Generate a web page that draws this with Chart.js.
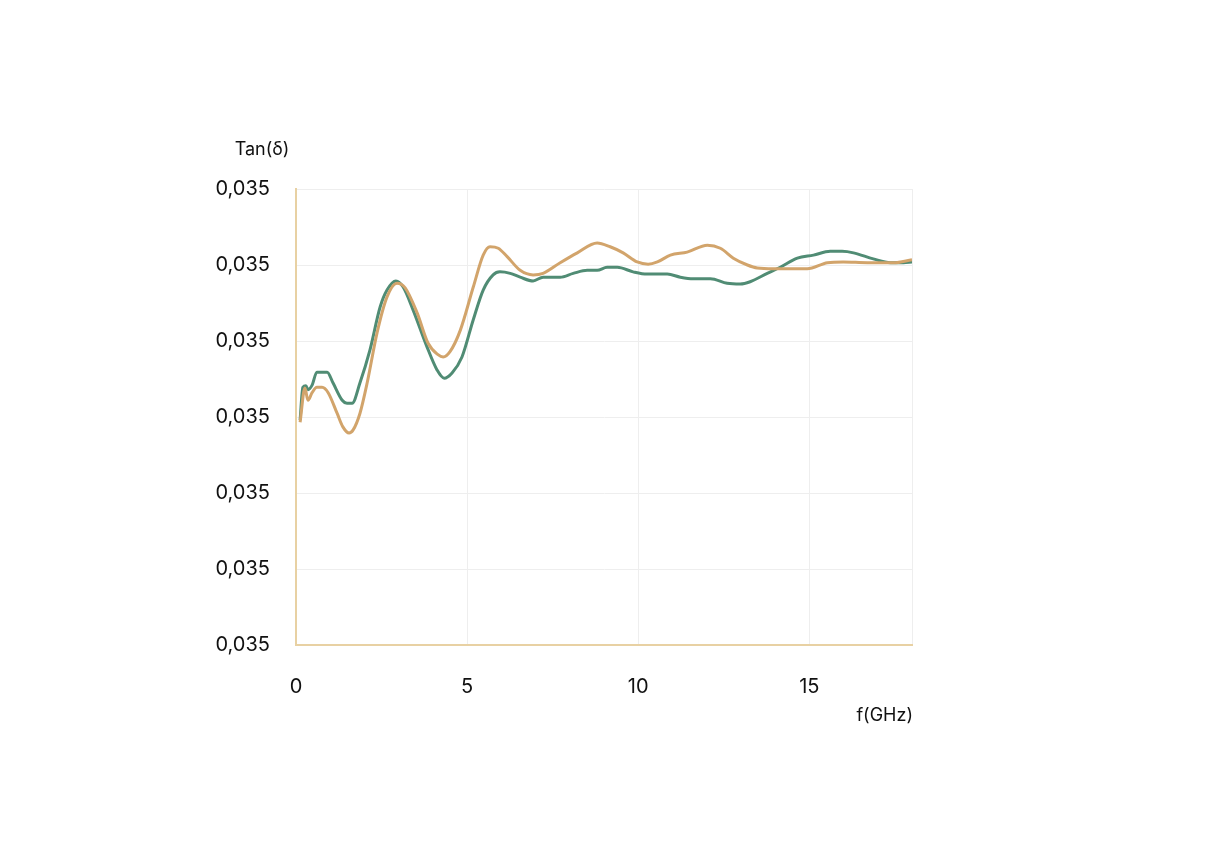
<!DOCTYPE html>
<html>
<head>
<meta charset="utf-8">
<title>Tan(δ)</title>
<script src="https://cdn.jsdelivr.net/npm/chart.js@4/dist/chart.umd.min.js"></script>
<style>
  html, body { margin: 0; padding: 0; background: #fff; }
  #wrap { width: 1209px; height: 860px; position: relative; }
</style>
</head>
<body>
<div id="wrap"><canvas id="chart" width="1209" height="860"></canvas></div>
<script>
// frequency (GHz) / tan(delta) level
const greenFreq = [0.12, 0.20, 0.29, 0.35, 0.47, 0.61, 0.91, 1.08, 1.35, 1.49, 1.64, 1.87, 2.16, 2.46, 2.66, 2.92, 3.13, 3.42, 3.83, 4.12, 4.33, 4.56, 4.85, 5.18, 5.47, 5.76, 5.96, 6.26, 6.55, 6.93, 7.22, 7.72, 8.10, 8.51, 8.80, 9.09, 9.39, 9.85, 10.26, 10.85, 11.23, 11.61, 12.11, 12.60, 12.98, 13.27, 13.77, 14.15, 14.65, 15.12, 15.61, 15.96, 16.29, 16.87, 17.37, 17.75, 18.0];
const greenValue = [2.96, 3.39, 3.41, 3.36, 3.42, 3.59, 3.59, 3.45, 3.22, 3.18, 3.18, 3.45, 3.88, 4.45, 4.67, 4.79, 4.71, 4.41, 3.92, 3.62, 3.51, 3.58, 3.79, 4.28, 4.67, 4.87, 4.91, 4.89, 4.84, 4.79, 4.84, 4.84, 4.89, 4.93, 4.93, 4.97, 4.97, 4.91, 4.88, 4.88, 4.84, 4.82, 4.82, 4.76, 4.75, 4.78, 4.89, 4.97, 5.09, 5.13, 5.18, 5.18, 5.16, 5.08, 5.03, 5.03, 5.04];

const orangeFreq = [0.12, 0.26, 0.35, 0.47, 0.61, 0.76, 0.94, 1.20, 1.37, 1.55, 1.67, 1.87, 2.08, 2.37, 2.66, 2.95, 3.19, 3.54, 3.86, 4.15, 4.30, 4.50, 4.80, 5.18, 5.47, 5.67, 5.91, 6.17, 6.55, 6.93, 7.22, 7.72, 8.22, 8.80, 9.18, 9.56, 9.97, 10.29, 10.56, 10.94, 11.43, 12.02, 12.40, 12.78, 13.19, 13.48, 13.95, 14.94, 15.53, 15.99, 16.70, 17.46, 18.0];
const orangeValue = [2.93, 3.38, 3.22, 3.32, 3.39, 3.39, 3.32, 3.05, 2.87, 2.79, 2.83, 3.05, 3.45, 4.11, 4.58, 4.76, 4.70, 4.37, 3.97, 3.82, 3.79, 3.86, 4.14, 4.71, 5.13, 5.24, 5.22, 5.11, 4.93, 4.87, 4.89, 5.03, 5.16, 5.29, 5.24, 5.16, 5.04, 5.01, 5.04, 5.13, 5.17, 5.26, 5.22, 5.09, 5.00, 4.96, 4.95, 4.95, 5.03, 5.04, 5.03, 5.03, 5.07];

const yTickLabels = ['0,035', '0,035', '0,035', '0,035', '0,035', '0,035', '0,035'];
const xTickLabels = ['0', '5', '10', '15'];

const FONT = 'Inter, "Noto Sans", sans-serif';
const TEXT = '#111111';

function toPoints(xs, ys) {
    return xs.map((x, i) => ({ x: x, y: ys[i] }));
}

// axis titles sit horizontally, outside the plot
const axisTitles = {
    id: 'axisTitles',
    afterDraw(chart) {
        const ctx = chart.ctx;
        const area = chart.chartArea;
        ctx.save();
        ctx.fillStyle = TEXT;
        ctx.font = '18px ' + FONT;
        ctx.textBaseline = 'middle';
        ctx.textAlign = 'center';
        ctx.fillText('Tan(δ)', area.left - 34, area.top - 39);
        ctx.textAlign = 'right';
        ctx.fillText('f(GHz)', area.right + 1, area.bottom + 71);
        ctx.restore();
    }
};

const ctx = document.getElementById('chart').getContext('2d');
new Chart(ctx, {
    type: 'line',
    data: {
        datasets: [
            {
                label: 'A',
                data: toPoints(orangeFreq, orangeValue),
                borderColor: '#d2a46b',
                borderWidth: 3,
                pointRadius: 0,
                cubicInterpolationMode: 'monotone'
            },
            {
                label: 'B',
                data: toPoints(greenFreq, greenValue),
                borderColor: '#508c74',
                borderWidth: 3,
                pointRadius: 0,
                cubicInterpolationMode: 'monotone'
            }
        ]
    },
    options: {
        responsive: false,
        animation: false,
        layout: { padding: { left: 0, top: 189, right: 297, bottom: 0 } },
        plugins: {
            legend: { display: false },
            tooltip: { enabled: false }
        },
        scales: {
            x: {
                type: 'linear',
                min: 0,
                max: 18,
                afterFit(scale) { scale.height = 215; },
                ticks: {
                    stepSize: 5,
                    padding: 30,
                    color: TEXT,
                    font: { family: FONT, size: 20 },
                    callback: (v) => xTickLabels[v / 5] !== undefined && v % 5 === 0 ? xTickLabels[v / 5] : ''
                },
                grid: { color: '#eeeeee', drawTicks: false },
                border: { color: '#e8d1a3', width: 2 }
            },
            y: {
                min: 0,
                max: 6,
                afterFit(scale) { scale.width = 296; },
                ticks: {
                    stepSize: 1,
                    padding: 26,
                    color: TEXT,
                    font: { family: FONT, size: 20 },
                    callback: (v) => yTickLabels[v]
                },
                grid: { color: '#eeeeee', drawTicks: false },
                border: { color: '#e8d1a3', width: 2 }
            }
        }
    },
    plugins: [axisTitles]
});
</script>
</body>
</html>
